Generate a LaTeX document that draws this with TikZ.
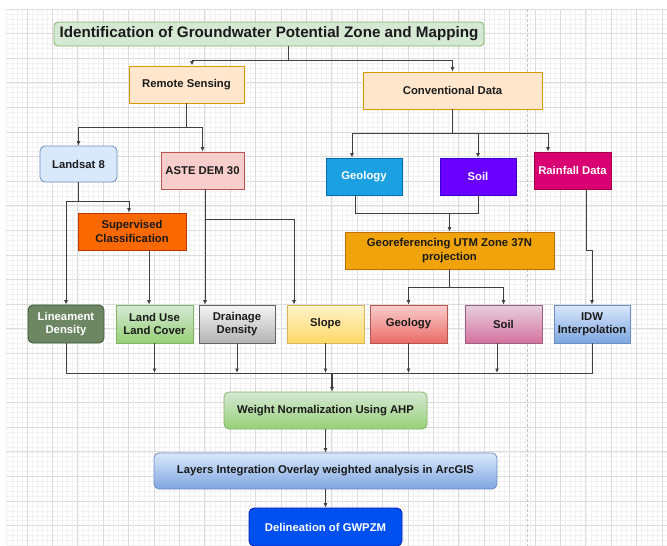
\documentclass[tikz,border=0pt]{standalone}
\usepackage{fontspec}
\setmainfont{Liberation Sans}
\usetikzlibrary{arrows.meta,calc}
\definecolor{lncol}{HTML}{404040}
\definecolor{txt}{HTML}{1A1A1A}
\definecolor{gminor}{HTML}{F2F2F2}
\definecolor{gmajor}{HTML}{DCDCDC}
\definecolor{dashcol}{HTML}{C4C4C4}
\definecolor{gfill}{HTML}{D5E8D4}\definecolor{gdraw}{HTML}{82B366}\definecolor{gdark}{HTML}{97D077}
\definecolor{ofill}{HTML}{FFE6CC}\definecolor{odraw}{HTML}{D79B00}
\definecolor{bfill}{HTML}{DAE8FC}\definecolor{bdraw}{HTML}{6C8EBF}\definecolor{bdark}{HTML}{7EA6E0}
\definecolor{rfill}{HTML}{F8CECC}\definecolor{rdraw}{HTML}{B85450}\definecolor{rdark}{HTML}{EA6B66}
\definecolor{supfill}{HTML}{FA6800}\definecolor{supdraw}{HTML}{C73500}
\definecolor{geofill}{HTML}{1BA1E2}\definecolor{geodraw}{HTML}{006EAF}
\definecolor{soilfill}{HTML}{6A00FF}\definecolor{soildraw}{HTML}{3700CC}
\definecolor{rainfill}{HTML}{D80073}\definecolor{raindraw}{HTML}{A50040}
\definecolor{georfill}{HTML}{F0A30A}\definecolor{georgdraw}{HTML}{BD7000}
\definecolor{linfill}{HTML}{6D8764}\definecolor{lindraw}{HTML}{3A5431}
\definecolor{grtop}{HTML}{F5F5F5}\definecolor{grbot}{HTML}{B3B3B3}\definecolor{grdraw}{HTML}{666666}
\definecolor{ytop}{HTML}{FFF2CC}\definecolor{ybot}{HTML}{FFD966}\definecolor{ydraw}{HTML}{D6B656}
\definecolor{ptop}{HTML}{E6D0DE}\definecolor{pbot}{HTML}{D5739D}\definecolor{pdraw}{HTML}{996185}
\definecolor{dfill}{HTML}{0050EF}\definecolor{ddraw}{HTML}{001DBC}
\begin{document}
\begin{tikzpicture}[x=1pt,y=-1pt,
  box/.style={draw, line width=0.8pt, minimum height=37pt, inner sep=1pt, align=center,
    font=\fontsize{11.3}{13.3}\selectfont\bfseries, text=txt},
  ln/.style={draw=lncol, line width=0.9pt},
  arr/.style={ln, -{Latex[length=4.5pt,width=4pt]}},
  gridminor/.style={draw=gminor, line width=0.5pt},
  gridmajor/.style={draw=gmajor, line width=0.7pt}]
\useasboundingbox (0,0) rectangle (667,546);
\fill[white] (0,0) rectangle (667,546);
\begin{scope}
\clip (6,9) rectangle (667,546);
\foreach \k in {0,...,131} \draw[gridminor] ({1.6+5.08*\k},9) -- ++(0,537);
\foreach \k in {0,...,109} \draw[gridminor] (6,{9+4.92*\k}) -- ++(661,0);
\foreach \k in {0,...,26} \draw[gridmajor] ({1.6+25.4*\k},9) -- ++(0,537);
\foreach \k in {0,...,22} \draw[gridmajor] (6,{9+24.6*\k}) -- ++(661,0);
\end{scope}
\draw[dashcol, line width=1pt, dash pattern=on 3pt off 2pt] (527,9) -- (527,546);

% nodes
\node[box, rounded corners=4pt, fill=gfill, draw=gdraw, minimum width=430pt, minimum height=24pt,
  font=\fontsize{15.2}{18}\selectfont\bfseries] (title) at (269,34) {Identification of Groundwater Potential Zone and Mapping};
\node[box, fill=ofill, draw=odraw, minimum width=115pt] (rs) at (186.5,84.5) {Remote Sensing};
\node[box, fill=ofill, draw=odraw, minimum width=179pt] (conv) at (452.5,90.5) {Conventional Data};
\node[box, rounded corners=5pt, fill=bfill, draw=bdraw, minimum width=77pt, minimum height=36pt] (landsat) at (78.5,164) {Landsat 8};
\node[box, fill=rfill, draw=rdraw, minimum width=83pt] (aste) at (202.5,170.5) {ASTE DEM 30};
\node[box, fill=supfill, draw=supdraw, minimum width=108pt] (sup) at (132,231.5) {Supervised\\Classification};
\node[box, fill=geofill, draw=geodraw, text=white, minimum width=76pt] (geoa) at (364,176.5) {Geology};
\node[box, fill=soilfill, draw=soildraw, text=white, minimum width=76pt] (soila) at (478,176.5) {Soil};
\node[box, fill=rainfill, draw=raindraw, text=white, minimum width=77pt] (rain) at (572.5,170.5) {Rainfall Data};
\node[box, fill=georfill, draw=georgdraw, minimum width=209pt] (georef) at (449.5,250.5) {Georeferencing UTM Zone 37N\\projection};

\node[box, rounded corners=5pt, fill=linfill, draw=lindraw, text=white, minimum width=76pt, minimum height=38pt] (lin) at (66,324) {Lineament\\Density};
\node[box, top color=gfill, bottom color=gdark, draw=gdraw, minimum width=77pt, minimum height=38pt] (lulc) at (154.5,324) {Land Use\\Land Cover};
\node[box, top color=grtop, bottom color=grbot, draw=grdraw, minimum width=76pt, minimum height=38pt] (drain) at (237,324) {Drainage\\Density};
\node[box, top color=ytop, bottom color=ybot, draw=ydraw, minimum width=77pt, minimum height=38pt] (slope) at (325.5,324) {Slope};
\node[box, top color=rfill, bottom color=rdark, draw=rdraw, minimum width=77pt, minimum height=38pt] (geob) at (408.5,324) {Geology};
\node[box, top color=ptop, bottom color=pbot, draw=pdraw, minimum width=77pt, minimum height=38pt] (soilb) at (503.5,324) {Soil};
\node[box, top color=bfill, bottom color=bdark, draw=bdraw, minimum width=76pt, minimum height=38pt] (idw) at (592,324) {IDW\\Interpolation};

\node[box, rounded corners=5pt, top color=gfill, bottom color=gdark, draw=gdraw, minimum width=203pt] (weight) at (325.5,410.5) {Weight Normalization Using AHP};
\node[box, rounded corners=5pt, top color=bfill, bottom color=bdark, draw=bdraw, minimum width=343pt, minimum height=36pt] (layers) at (325.5,471) {Layers Integration Overlay weighted analysis in ArcGIS};
\node[box, rounded corners=5pt, fill=dfill, draw=ddraw, text=white, minimum width=153pt, minimum height=38pt] (delin) at (325.5,527) {Delineation of GWPZM};

% connectors
\coordinate (t0) at (288,60);
\draw[ln] (title.south -| t0) -- (t0);
\draw[arr] (t0) -| ([xshift=5.5pt]rs.north);
\draw[arr] (t0) -| (conv.north);

\coordinate (r0) at (186.5,127);
\draw[ln] (rs.south) -- (r0);
\draw[arr] (r0) -| (landsat.north);
\draw[arr] (r0) -| (aste.north);

\coordinate (l0) at (78.5,201);
\draw[ln] (landsat.south) -- (l0);
\draw[arr] (l0) -| (lin.north);
\draw[arr] (l0) -| ([xshift=-3pt]sup.north);

\coordinate (s1) at ([xshift=17pt]sup.south);
\draw[arr] (s1) -- (s1 |- lulc.north);

\coordinate (a1) at ([xshift=2.5pt]aste.south);
\draw[arr] (a1) -- (a1 |- drain.north);
\coordinate (a0) at (205,219);
\draw[arr] (a0) -| ([xshift=-31.5pt]slope.north);

\coordinate (c0) at (452.5,133);
\draw[ln] (conv.south) -- (c0);
\draw[arr] (c0) -| ([xshift=-12pt]geoa.north);
\draw[arr] (c0) -| (soila.north);
\draw[arr] (c0) -| ([xshift=-24.5pt]rain.north);

\coordinate (gs) at (449.5,213);
\coordinate (g1) at ([xshift=-9pt]geoa.south);
\draw[ln] (g1) |- (soila.south |- gs) -- (soila.south);
\draw[arr] (gs) -- (georef.north);

\coordinate (g0) at (449.5,287);
\draw[ln] (georef.south) -- (g0);
\draw[arr] (g0) -| (geob.north);
\draw[arr] (g0) -| (soilb.north);

\coordinate (rn1) at ([xshift=13.5pt]rain.south);
\coordinate (rn2) at (586,250);
\coordinate (rn3) at (592,250);
\draw[arr] (rn1) -- (rn2) -- (rn3) -- (idw.north);

\coordinate (b0) at (332,373);
\draw[ln] (lin.south) |- (idw.south |- b0) -- (idw.south);
\draw[arr] (lulc.south) -- (lulc.south |- b0);
\draw[arr] (drain.south) -- (drain.south |- b0);
\draw[arr] (slope.south) -- (slope.south |- b0);
\draw[arr] (geob.south) -- (geob.south |- b0);
\coordinate (sb) at ([xshift=-6.5pt]soilb.south);
\draw[arr] (sb) -- (sb |- b0);
\draw[arr, line width=1.6pt] (b0) -- (b0 |- weight.north);

\draw[arr] (weight.south) -- (layers.north);
\draw[arr] (layers.south) -- (delin.north);
\end{tikzpicture}
\end{document}
